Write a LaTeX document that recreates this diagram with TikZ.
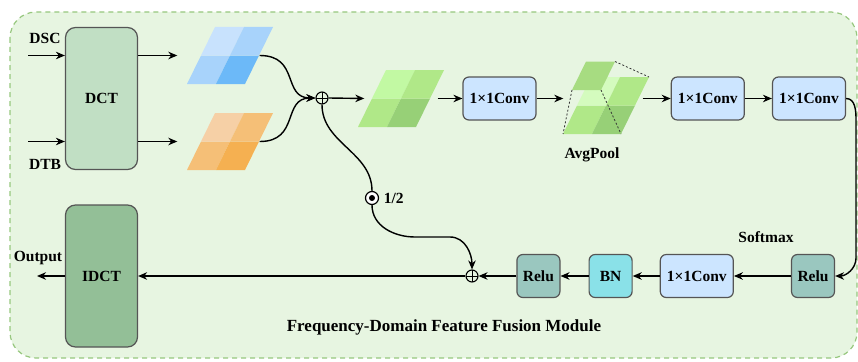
\documentclass[tikz,border=0pt]{standalone}
\usepackage{fontspec}
\setmainfont{Liberation Serif}
\usetikzlibrary{arrows.meta, positioning}
\usepackage{xcolor}

\definecolor{bgfill}{HTML}{E7F5E1}
\definecolor{frameline}{HTML}{97C77E}
\definecolor{boxline}{HTML}{555555}
\definecolor{dctfill}{HTML}{C1DFC4}
\definecolor{idctfill}{HTML}{93BF97}
\definecolor{convblue}{HTML}{CCE5FF}
\definecolor{relugray}{HTML}{9AC7BF}
\definecolor{bncyan}{HTML}{8AE1E8}
\definecolor{blueA}{HTML}{C8E2FD}
\definecolor{blueB}{HTML}{A8D3FB}
\definecolor{blueC}{HTML}{6CB9F8}
\definecolor{orA}{HTML}{F6D0A6}
\definecolor{orB}{HTML}{F5BF77}
\definecolor{orC}{HTML}{F5B051}
\definecolor{grA}{HTML}{C2F9A3}
\definecolor{grB}{HTML}{B0E888}
\definecolor{grC}{HTML}{97D077}

% 2x2 feature map: #1 bottom-left corner, #2 top-left cell, #3 side cells, #4 bottom-right cell
\newcommand{\fmapcells}[4]{%
  \begin{scope}[shift={#1}]
    \fill[#3] (0,0) -- (29,0) -- (43,-28.5) -- (14,-28.5) -- cycle;
    \fill[#4] (29,0) -- (58,0) -- (72,-28.5) -- (43,-28.5) -- cycle;
    \fill[#2] (14,-28.5) -- (43,-28.5) -- (57,-57) -- (28,-57) -- cycle;
    \fill[#3] (43,-28.5) -- (72,-28.5) -- (86,-57) -- (57,-57) -- cycle;
  \end{scope}}

\begin{document}
\begin{tikzpicture}[
  x=1pt, y=-1pt,
  >={Stealth[length=9pt,width=7.5pt]},
  line width=1.4pt,
  box/.style={rectangle, draw=boxline, line width=1.2pt, rounded corners=6pt, minimum width=73pt, minimum height=43pt, inner sep=0pt, align=center, font=\fontsize{15.5}{17}\selectfont\bfseries},
  conv/.style={box, fill=convblue},
  relu/.style={box, fill=relugray, minimum width=43pt},
  bn/.style={box, fill=bncyan, minimum width=43pt},
  trans/.style={box, rounded corners=10pt, minimum width=72pt, minimum height=142pt},
  lbl/.style={font=\fontsize{15.5}{17}\selectfont\bfseries, inner sep=0pt},
  sumnode/.style={circle, draw, line width=1.1pt, minimum size=12pt, inner sep=0pt, path picture={\draw[line width=0.9pt] (path picture bounding box.north) -- (path picture bounding box.south) (path picture bounding box.west) -- (path picture bounding box.east);}},
  halfnode/.style={circle, draw, fill=white, line width=1.2pt, minimum size=13pt, inner sep=0pt},
  fmap/.style={rectangle, minimum width=58pt, minimum height=57pt, inner sep=0pt}
]
\useasboundingbox (0,0) rectangle (858,361);
\draw[frameline, fill=bgfill, dash pattern=on 5pt off 4pt, line width=1.2pt, rounded corners=26pt] (10,12) rectangle (857,358);

% transforms
\node[trans, fill=dctfill] (dct) at (101.5,98.5) {DCT};
\node[trans, fill=idctfill] (idct) at (101.5,276) {IDCT};
\node[lbl] (dsc) at (45,38) {DSC};
\node[lbl] (dtb) at (45,164) {DTB};
\node[lbl] (out) at (38,258) {Output};
\coordinate (dscin) at (28,55.5);
\coordinate (dtbin) at (28,141.5);
\coordinate (outend) at (37,276);
\draw[->] (dscin) -- (dscin -| dct.west);
\draw[->] (dtbin) -- (dtbin -| dct.west);
\draw[->] (idct.west) -- (outend);

% frequency maps
\fmapcells{(187,84)}{blueA}{blueB}{blueC}
\node[fmap] (blue) at (230,55.5) {};
\fmapcells{(187,170)}{orA}{orB}{orC}
\node[fmap] (orange) at (230,141.5) {};
\draw[->] (dct.east |- blue) -- ([xshift=-23pt]blue.west);
\draw[->] (dct.east |- orange) -- ([xshift=-23pt]orange.west);

\node[sumnode] (sum) at (322,98) {};
\draw[->] (blue.east) .. controls (300,55.5) and (282,98) .. (sum.west);
\draw[->] (orange.east) .. controls (300,141.5) and (282,98) .. (sum.west);

\fmapcells{(358,127)}{grA}{grB}{grC}
\node[fmap, minimum width=72pt] (green) at (401,98.5) {};
\draw[->] (sum.east) -- (green.west);

\node[conv] (conva) at (499.5,98.5) {1×1Conv};
\draw[->] (green.east) -- (conva.west);

% pooling
\fmapcells{(563,134)}{grA!70!white}{grB}{grC}
\fill[grB!95!black] (572,90) -- (601,90) -- (615,61.5) -- (586,61.5) -- cycle;
\draw[black!80, line width=0.8pt, dash pattern=on 2pt off 2pt] (572,90) -- (563,134) (601,90) -- (621,134) (615,61.5) -- (649,77);
\node[fmap, minimum width=78pt] (pool) at (603,98.5) {};
\node[lbl] (poollbl) at (592,155) {AvgPool};
\draw[->] (conva) -- (pool.west);

\node[conv, right=28pt of pool] (convb) {1×1Conv};
\node[conv, right=27pt of convb] (convc) {1×1Conv};
\draw[->] (pool) -- (convb);
\draw[->] (convb) -- (convc);

% lower branch
\node[relu] (relua) at (813,276) {Relu};
\node[lbl] (softmax) at (766,237) {Softmax};
\node[conv, left=57pt of relua] (convd) {1×1Conv};
\node[bn, left=27pt of convd] (bn) {BN};
\node[relu, left=28pt of bn] (relub) {Relu};
\node[sumnode] (sumb) at (472,276) {};
\draw[->] (convc.east) to[out=0,in=90] (856,120) -- (856,258) to[out=-90,in=0] (relua.east);
\draw[->] (relua) -- (convd);
\draw[->] (convd) -- (bn);
\draw[->] (bn) -- (relub);
\draw[->] (relub) -- (sumb);
\draw[->] (sumb) -- (idct);

% residual half
\node[halfnode] (half) at (372,198) {};
\fill (half.center) circle (3pt);
\node[lbl, right=4pt of half] (halflbl) {1/2};
\draw (sum.south) to[out=-90,in=90] (half.north);
\draw[->] (half.south) to[out=-90,in=180] (415,237) -- (450,237) to[out=0,in=90] (sumb.north);

\node[lbl, font=\fontsize{17}{19}\selectfont\bfseries] (title) at (444,327) {Frequency-Domain Feature Fusion Module};
\end{tikzpicture}
\end{document}
